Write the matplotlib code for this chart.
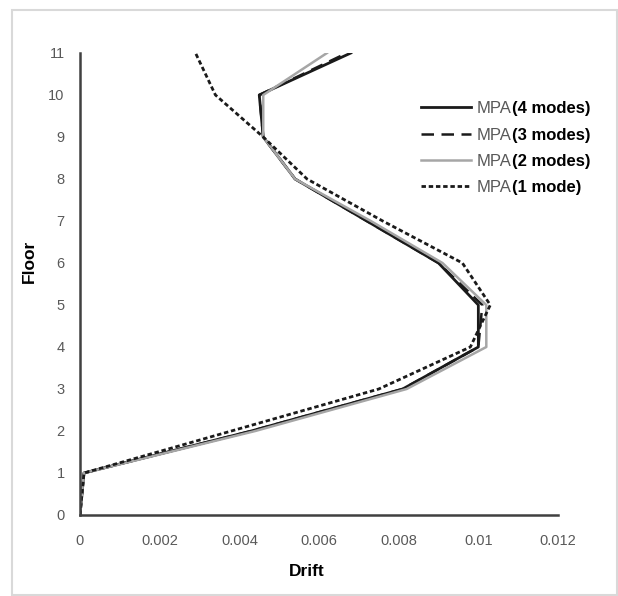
import numpy as np
import matplotlib
matplotlib.use("Agg")
import matplotlib.pyplot as plt
from matplotlib.patches import Rectangle

# --- Datos ---

pisos = [0, 1, 2, 3, 4, 5, 6, 7, 8, 9, 10, 11]

mpa_4_modos = [0, 0.0001, 0.0043, 0.0081, 0.0100, 0.0100, 0.0090, 0.0072, 0.0054, 0.0046, 0.0045, 0.0068]
mpa_3_modos = [0, 0.0001, 0.0043, 0.0081, 0.0100, 0.0101, 0.0090, 0.0072, 0.0054, 0.0046, 0.0045, 0.0067]
mpa_2_modos = [0, 0.0001, 0.0044, 0.0082, 0.0102, 0.0102, 0.0091, 0.0073, 0.0054, 0.0046, 0.0046, 0.0062]
mpa_1_modo = [0, 0.0001, 0.0038, 0.0075, 0.0098, 0.0103, 0.0096, 0.0076, 0.0057, 0.0046, 0.0034, 0.0029]

etiquetas = ["(4 modes)", "(3 modes)", "(2 modes)", "(1 mode)"]
xticks = [0, 0.002, 0.004, 0.006, 0.008, 0.01, 0.012]
xtick_labels = ["0", "0.002", "0.004", "0.006", "0.008", "0.01", "0.012"]
yticks = list(range(0, 12))

GRIS_TEXTO = "#595959"
GRIS_EJE = "#404040"


def graficar():
    """Dibuja el perfil de derivas por piso."""
    plt.rcParams['font.family'] = ['Liberation Sans', 'DejaVu Sans']
    fig = plt.figure(figsize=(6.18, 5.96), dpi=100)
    ax = fig.add_axes([80 / 618, 1 - 515 / 596, 478 / 618, 462 / 596])

    series = [
        (mpa_4_modos, dict(color="#1a1a1a", lw=2.0, ls="-")),
        (mpa_3_modos, dict(color="#1a1a1a", lw=1.8, ls=(0, (5, 3)))),
        (mpa_2_modos, dict(color="#a6a6a6", lw=1.8, ls="-")),
        (mpa_1_modo, dict(color="#1a1a1a", lw=2.0, ls=(0, (1.6, 1.0)))),
    ]
    lineas = []
    for valores, estilo in series:
        l, = ax.plot(valores, pisos, **estilo)
        lineas.append(l)

    ax.set_xlim(0, 0.012)
    ax.set_ylim(0, 11)
    ax.set_xticks(xticks)
    ax.set_xticklabels(xtick_labels)
    ax.set_yticks(yticks)
    ax.tick_params(length=0, colors=GRIS_TEXTO, labelsize=10.5, pad=14)
    ax.tick_params(axis='y', pad=11)
    for lado in ["top", "right"]:
        ax.spines[lado].set_visible(False)
    for lado in ["left", "bottom"]:
        ax.spines[lado].set_color(GRIS_EJE)
        ax.spines[lado].set_linewidth(1.8)

    fig.text(307 / 618, 1 - 572 / 596, "Drift", ha="center", va="center",
             fontsize=12.5, fontweight="bold", color="black")
    fig.text(29 / 618, 1 - 261 / 596, "Floor", ha="center", va="center",
             rotation=90, fontsize=12.5, fontweight="bold", color="black")

    # Leyenda: "MPA" en gris y el resto en negrita
    leg = ax.legend(lineas, ["MPA"] * 4, loc="upper left",
                    bbox_to_anchor=(0.70, 0.91), frameon=False,
                    fontsize=12, handlelength=3.0, handletextpad=0.35,
                    labelspacing=0.68, borderaxespad=0)
    for t in leg.get_texts():
        t.set_color(GRIS_TEXTO)

    fig.canvas.draw()
    r = fig.canvas.get_renderer()
    for t, etiqueta in zip(leg.get_texts(), etiquetas):
        bb = t.get_window_extent(r)
        fig.text(bb.x1 / fig.bbox.width, (bb.y0 + bb.y1) / 2 / fig.bbox.height,
                 etiqueta, ha="left", va="center", fontsize=12,
                 fontweight="bold", color="black")

    # Marco gris claro del grafico
    fig.patches.append(Rectangle((12 / 618, 0.002), 1 - 13 / 618, 1 - 10 / 596 - 0.002,
                                 transform=fig.transFigure, fill=False,
                                 edgecolor="#d9d9d9", lw=1.5))

    fig.savefig("out.png", dpi=100)


if __name__ == "__main__":
    graficar()
